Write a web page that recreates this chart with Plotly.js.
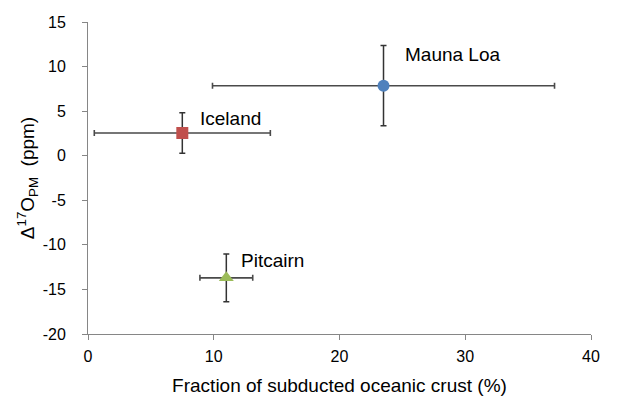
<!DOCTYPE html>
<html><head><meta charset="utf-8">
<script src="https://cdn.plot.ly/plotly-3.0.1.min.js"></script>
<style>html,body{margin:0;padding:0;background:#fff}#c{width:632px;height:404px}</style>
</head><body><div id="c"></div>
<script>
const names = ["Mauna Loa", "Iceland", "Pitcairn"];
const xVals = [23.5, 7.5, 11.0];
const yVals = [7.85, 2.55, -13.7];
const xErr = [13.6, 7.0, 2.1];
const yErr = [4.5, 2.28, 2.67];
const colors = ["#4F81BD", "#C0504D", "#9BBB59"];
const symbols = ["circle", "square", "triangle-up"];
const labelShift = [[19, 31], [16, 14], [13, 17]];
const xTicks = [0, 10, 20, 30, 40];
const xTickText = ["0", "10", "20", "30", "40"];
const yTicks = [-20, -15, -10, -5, 0, 5, 10, 15];
const yTickText = ["-20", "-15", "-10", "-5", "0", "5", "10", "15"];

const FONT = "Liberation Sans, Arial, sans-serif";

const traces = names.map((n, i) => ({
  type: "scatter", mode: "markers", name: n,
  x: [xVals[i]], y: [yVals[i]],
  error_x: {type: "data", array: [xErr[i]], color: "#4a4a4a", thickness: 1.6, width: 3},
  error_y: {type: "data", array: [yErr[i]], color: "#333333", thickness: 1.5, width: 3},
  marker: {color: colors[i], symbol: symbols[i], size: i === 2 ? 13 : 12, line: {width: 0}},
  showlegend: false, hoverinfo: "skip"
}));

const annotations = names.map((n, i) => ({
  x: xVals[i], y: yVals[i], xref: "x", yref: "y", text: n, showarrow: false,
  xanchor: "left", yanchor: "middle", xshift: labelShift[i][0], yshift: labelShift[i][1],
  font: {family: FONT, size: 19, color: "#000"}
}));

const layout = {
  width: 632, height: 404,
  margin: {l: 88, r: 41, t: 22, b: 70},
  paper_bgcolor: "#fff", plot_bgcolor: "#fff",
  font: {family: FONT, size: 16, color: "#000"},
  xaxis: {
    range: [0, 40], tickmode: "array", tickvals: xTicks, ticktext: xTickText,
    showgrid: false, zeroline: false,
    showline: true, linecolor: "#868686", linewidth: 1,
    ticks: "outside", ticklen: 5, tickcolor: "#868686", ticklabelstandoff: 3,
    tickfont: {size: 16},
    title: {text: "Fraction of subducted oceanic crust (%)", font: {size: 19}, standoff: 14}
  },
  yaxis: {
    range: [-20, 15], tickmode: "array", tickvals: yTicks, ticktext: yTickText,
    showgrid: false, zeroline: false,
    showline: true, linecolor: "#868686", linewidth: 1,
    ticks: "outside", ticklen: 5, tickcolor: "#868686", ticklabelstandoff: 13,
    tickfont: {size: 16},
    title: {text: "Δ<sup>17</sup>O<sub>PM</sub>  (ppm)", font: {size: 19}, standoff: 3}
  },
  annotations: annotations
};

Plotly.newPlot("c", traces, layout, {displayModeBar: false, staticPlot: true});
</script></body></html>
